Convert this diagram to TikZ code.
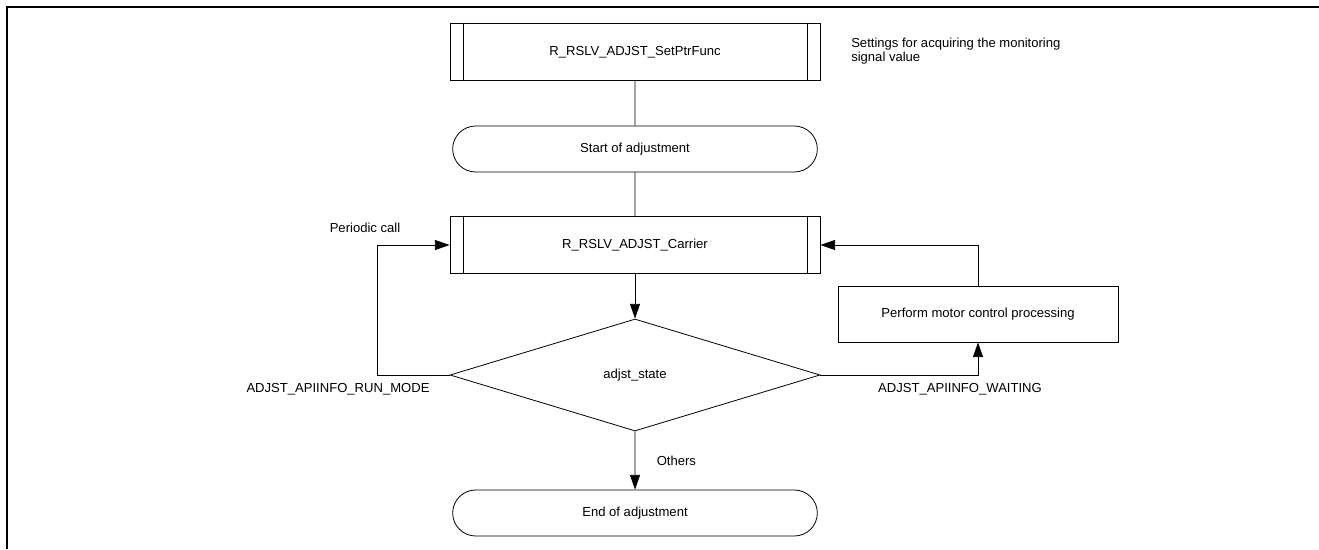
\documentclass[tikz,border=0pt]{standalone}
\usepackage{fontspec}
\setmainfont{Liberation Sans}
\usetikzlibrary{arrows.meta,shapes.geometric,shapes.misc}

\tikzset{
  base/.style={draw,line width=0.6pt,inner sep=2pt,font=\fontsize{9.8}{10.5}\selectfont},
  subproc/.style={base,rectangle,minimum width=277.5pt,minimum height=42.75pt,
    path picture={
      \draw[line width=0.6pt] ([xshift=9.75pt]path picture bounding box.north west) -- ([xshift=9.75pt]path picture bounding box.south west);
      \draw[line width=0.6pt] ([xshift=-9.75pt]path picture bounding box.north east) -- ([xshift=-9.75pt]path picture bounding box.south east);
    }},
  terminal/.style={base,rounded rectangle,minimum width=277.5pt,minimum height=34.5pt},
  procbox/.style={base,rectangle,minimum width=210pt,minimum height=42pt},
  decision/.style={base,diamond,inner sep=0pt,minimum width=277.5pt,minimum height=84pt},
  lbl/.style={font=\fontsize{9.8}{10.5}\selectfont,inner sep=0pt},
  flow/.style={line width=0.6pt,-{Triangle[length=11pt,width=7.5pt]}},
  link/.style={line width=0.6pt}
}

\begin{document}
\begin{tikzpicture}[x=0.75pt,y=-0.75pt]
  \useasboundingbox (0,0) rectangle (1319,549);

  % Frame
  \draw[line width=1.5pt] (7,549) -- (7,7) -- (1319,7);

  % Boxes
  \node[subproc] (setptr) at (635,52) {R\_RSLV\_ADJST\_SetPtrFunc};
  \node[lbl,align=left,anchor=west] (note) at (851,51.5) {Settings for acquiring the monitoring\\signal value};
  \node[terminal] (start) at (635,149) {Start of adjustment};
  \node[subproc] (carrier) at (635,245) {R\_RSLV\_ADJST\_Carrier};
  \node[decision] (state) at (635,375) {adjst\_state};
  \node[procbox] (motor) at (978,314) {Perform motor control processing};
  \node[terminal] (finish) at (635,513) {End of adjustment};

  % Connectors
  \draw[link] (setptr) -- (start);
  \draw[link] (start) -- (carrier);
  \draw[flow] (carrier) -- (state);
  \draw[flow] (state) -- (finish) node[lbl,midway,right=16pt] (others) {Others};

  \coordinate (loopL) at (377,245);
  \draw[flow] (state.west) -| (loopL) -- (carrier.west);
  \draw[flow] (state.east) -| (motor.south);
  \draw[flow] (motor.north) |- (carrier.east);

  % Labels
  \node[lbl] (periodic) at (365,228) {Periodic call};
  \node[lbl] (runmode) at (338,389) {ADJST\_APIINFO\_RUN\_MODE};
  \node[lbl] (waiting) at (960,389) {ADJST\_APIINFO\_WAITING};
\end{tikzpicture}
\end{document}
